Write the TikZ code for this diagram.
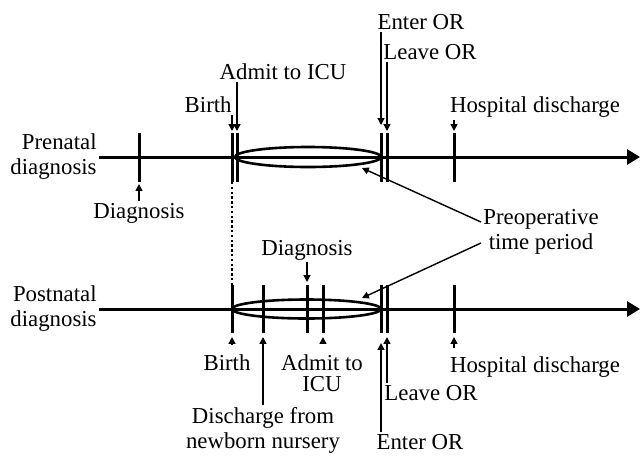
\documentclass[tikz,border=0pt]{standalone}
\usepackage{fontspec}
\setmainfont{Liberation Serif}
\usetikzlibrary{arrows.meta}

\begin{document}
\begin{tikzpicture}[x=0.5pt, y=-0.5pt,
  >={Triangle[length=3.4pt,width=3.4pt]},
  every node/.style={font=\fontsize{11.4}{12.5}\selectfont, inner sep=1pt},
  axis/.style={line width=1.5pt, -{Triangle[length=6.5pt,width=7.5pt]}},
  tick/.style={line width=1.5pt},
  lens/.style={line width=1.3pt},
  pin/.style={line width=0.7pt, ->, shorten >=1pt}]
  \useasboundingbox (0,0) rectangle (640,455);

  % === upper time line: prenatal diagnosis ===
  \node[anchor=east, align=right] (pre) at (99,157) {Prenatal\\diagnosis};
  \coordinate (preEnd) at (640,157);
  \draw[axis] (pre.east) -- (preEnd);
  \foreach \nm/\x in {dx/139, bx/232, ix/237, ex/381, lx/387, hx/454} {
    \coordinate (u-\nm) at (\x,133);
    \coordinate (ud-\nm) at (\x,182);
    \draw[tick] (u-\nm) -- (ud-\nm);
  }
  % preoperative period
  \draw[lens] (308,157) ellipse [x radius=36.5pt, y radius=5pt];

  % events
  \node (uAdmit) at (283,72) {Admit to ICU};
  \node[anchor=east] (uBirth) at (234,105) {Birth};
  \node (uEnter) at (421,22) {Enter OR};
  \node (uLeave) at (430,52) {Leave OR};
  \node (uHosp) at (535,107) {Hospital discharge};
  \node (uDiag) at (139,213) {Diagnosis};
  \draw[pin] (uAdmit.south -| u-ix) -- (u-ix);
  \draw[pin] (uBirth.south -| u-bx) -- (u-bx);
  \draw[pin, shorten >=4pt] (uEnter.south -| u-ex) -- (u-ex);
  \draw[pin] (uLeave.south -| u-lx) -- (u-lx);
  \draw[pin] (uHosp.south -| u-hx) -- (u-hx);
  \draw[pin] (uDiag.north) -- (ud-dx);

  % === lower time line: postnatal diagnosis ===
  \node[anchor=east, align=right] (post) at (99,309) {Postnatal\\diagnosis};
  \coordinate (postEnd) at (640,309);
  \draw[axis] (post.east) -- (postEnd);
  \foreach \nm/\x in {bx/232, nx/263, dx/307, ix/323, ex/381, lx/387, hx/454} {
    \coordinate (l-\nm) at (\x,285);
    \coordinate (ld-\nm) at (\x,333);
    \draw[tick] (l-\nm) -- (ld-\nm);
  }
  \draw[lens] (306.5,309) ellipse [x radius=37.25pt, y radius=4.75pt];
  % birth is the same moment
  \draw[line width=1.2pt, dash pattern=on 1.2pt off 1.2pt] (ud-bx) -- (l-bx);

  % events
  \node (lDiag) at (307,250) {Diagnosis};
  \node (lBirth) at (227,363) {Birth};
  \node[align=center] (lNurs) at (263,430) {Discharge from\\newborn nursery};
  \node[align=center] (lAdmit) at (322,373) {Admit to\\[-2pt]ICU};
  \node (lEnter) at (420,442) {Enter OR};
  \node (lLeave) at (431,393) {Leave OR};
  \node (lHosp) at (535,367) {Hospital discharge};
  \draw[pin, shorten >=1.5pt] (lDiag.south) -- (l-dx);
  \draw[pin, shorten >=2pt] ([yshift=4pt]lBirth.north -| ld-bx) -- (ld-bx);
  \draw[pin, shorten >=2pt] (lNurs.north -| ld-nx) -- (ld-nx);
  \draw[pin, shorten >=2pt] ([yshift=4pt]lAdmit.north -| ld-ix) -- (ld-ix);
  \draw[pin, shorten >=5pt] (lEnter.north -| ld-ex) -- (ld-ex);
  \draw[pin, shorten >=2pt] (lLeave.north -| ld-lx) -- (ld-lx);
  \draw[pin, shorten >=2pt] ([yshift=3pt]lHosp.north -| ld-hx) -- (ld-hx);

  % === preoperative time period ===
  \node[align=center] (preop) at (541,232) {Preoperative\\time period};
  \coordinate (tipU) at (362,168);
  \coordinate (tipL) at (362,298);
  \draw[pin, shorten >=0pt] ([yshift=5pt]preop.west) -- (tipU);
  \draw[pin, shorten >=0pt] ([yshift=-5.5pt]preop.west) -- (tipL);
\end{tikzpicture}
\end{document}
